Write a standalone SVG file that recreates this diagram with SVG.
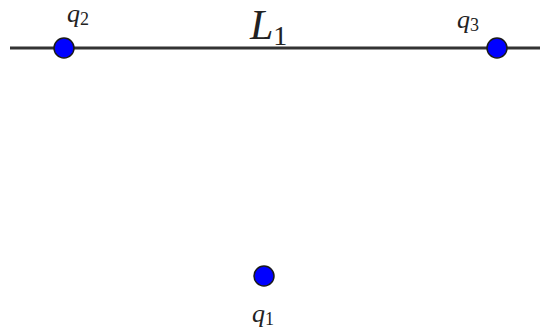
<svg xmlns="http://www.w3.org/2000/svg" width="540" height="335" viewBox="0 0 540 335">
<style>
.pt{fill:#0000ff;stroke:#1a1a1a;stroke-width:1.5}
.lbl{font-family:'Liberation Serif','Times New Roman',serif;font-style:italic;fill:#222}
.sub{font-style:normal}
</style>
<rect width="540" height="335" fill="#fff"/>
<g id="connectors">
<line x1="10" y1="48" x2="540" y2="48" stroke="#333" stroke-width="3"/>
</g>
<g id="L1"><text class="lbl" x="250" y="39" font-size="42">L<tspan class="sub" font-size="28" dy="6">1</tspan></text></g>
<g id="q2"><circle class="pt" cx="64" cy="48" r="10"/><text class="lbl" x="67" y="22" font-size="26">q<tspan class="sub" font-size="18" dy="3">2</tspan></text></g>
<g id="q3"><circle class="pt" cx="497" cy="48" r="10"/><text class="lbl" x="457" y="28" font-size="26">q<tspan class="sub" font-size="18" dy="3">3</tspan></text></g>
<g id="q1"><circle class="pt" cx="264" cy="276" r="10"/><text class="lbl" x="252" y="322" font-size="26">q<tspan class="sub" font-size="18" dy="3">1</tspan></text></g>
</svg>
